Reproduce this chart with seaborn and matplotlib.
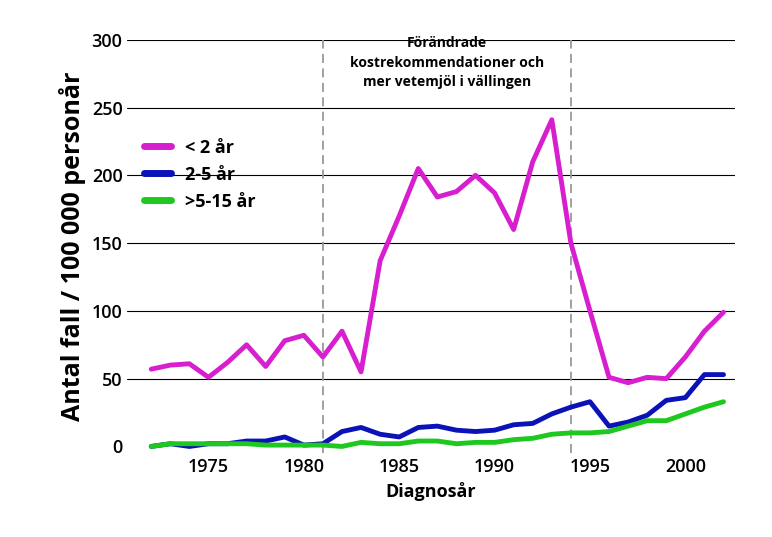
import matplotlib
matplotlib.use("Agg")
import matplotlib.pyplot as plt
import seaborn as sns
import pandas as pd

years = list(range(1972, 2003))
under2 = [57,60,61,51,62,75,59,78,82,66,85,55,137,170,205,184,188,200,187,160,210,241,150,100,51,47,51,50,66,85,99]
age2_5 = [0,2,0,2,2,4,4,7,1,2,11,14,9,7,14,15,12,11,12,16,17,24,29,33,15,18,23,34,36,53,53]
age5_15 = [0,2,2,2,2,2,1,1,1,1,0,3,2,2,4,4,2,3,3,5,6,9,10,10,11,15,19,19,24,29,33]
labels = ["< 2 år", "2-5 år", ">5-15 år"]
colors = ["#d81fd0", "#0a12b8", "#1ec81e"]

df = pd.DataFrame({"year": years*3,
                   "value": under2+age2_5+age5_15,
                   "group": [labels[0]]*31+[labels[1]]*31+[labels[2]]*31})

sns.set_style("white")
plt.rcParams['font.family'] = ['Open Sans', 'DejaVu Sans']
plt.rcParams['text.color'] = 'black'
fig = plt.figure(figsize=(7.72, 5.37), dpi=100)
ax = fig.add_axes([0.165, 0.156, 0.787, 0.77])
for y in range(50, 301, 50):
    ax.axhline(y, color="black", lw=0.8, zorder=0)
sns.lineplot(data=df, x="year", y="value", hue="group", palette=colors, lw=3.5, ax=ax)
for x in (1981, 1994):
    ax.axvline(x, color="#999999", ls=(0, (5, 3)), lw=1.3, zorder=0)
ax.text(1987.5, 283, "Förändrade\nkostrekommendationer och\nmer vetemjöl i vällingen",
        ha="center", va="center", fontsize=10, fontweight="bold", linespacing=1.5, color="black")
ax.set_xlim(1970.75, 2002.6)
ax.set_ylim(-5, 300)
ax.set_xticks([1975, 1980, 1985, 1990, 1995, 2000])
ax.set_yticks(range(0, 301, 50))
ax.tick_params(labelsize=13, length=0, labelcolor="black")
for l in ax.get_xticklabels()+ax.get_yticklabels():
    l.set_fontweight("semibold")
for s in ax.spines.values():
    s.set_visible(False)
ax.set_xlabel("Diagnosår", fontsize=13, fontweight="bold", color="black")
ax.set_ylabel("Antal fall / 100 000 personår", fontsize=18, fontweight="bold", color="black")
leg = ax.legend(loc="upper left", bbox_to_anchor=(0.0, 0.8), frameon=False,
                fontsize=13, handlelength=1.5)
for t in leg.get_texts():
    t.set_fontweight("bold")
for h in leg.get_lines():
    h.set_linewidth(5)
fig.savefig("out.png", dpi=100)
